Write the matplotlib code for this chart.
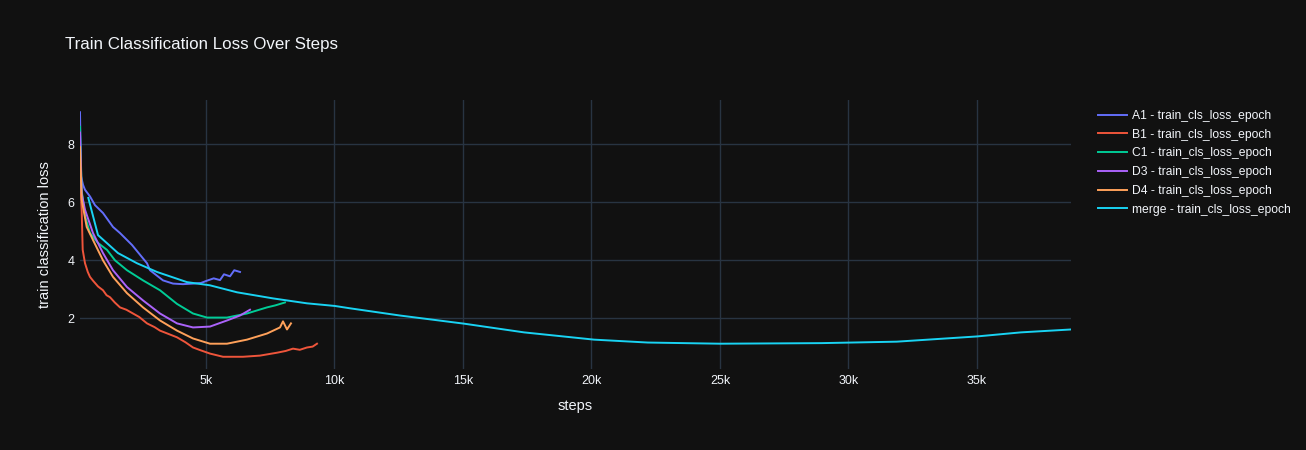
import matplotlib
matplotlib.use("Agg")
import matplotlib.pyplot as plt
from matplotlib.ticker import FuncFormatter

# values (step, loss)
steps_a1 = [97, 136, 214, 292, 486, 681, 992, 1381, 1654, 2120, 2704, 2821, 3327, 3716, 4100,
            4494, 4800, 5039, 5300, 5545, 5700, 5934, 6100, 6323]
loss_a1 = [9.1, 6.9, 6.6, 6.43, 6.2, 5.9, 5.63, 5.15, 4.94, 4.53, 3.9, 3.66, 3.31, 3.2, 3.18,
           3.2, 3.22, 3.3, 3.38, 3.32, 3.52, 3.45, 3.66, 3.6]

steps_b1 = [97, 163, 202, 292, 400, 486, 603, 800, 992, 1130, 1265, 1450, 1654, 1900, 2160,
            2400, 2704, 3000, 3210, 3500, 3872, 4200, 4494, 4800, 5156, 5662, 6440, 7101,
            7763, 8100, 8385, 8650, 8930, 9150, 9319]
loss_b1 = [6.9, 5.7, 4.36, 3.9, 3.6, 3.43, 3.3, 3.1, 2.97, 2.8, 2.73, 2.55, 2.38, 2.3, 2.17,
           2.05, 1.83, 1.7, 1.58, 1.48, 1.35, 1.18, 1.0, 0.9, 0.79, 0.68, 0.68, 0.72,
           0.82, 0.88, 0.96, 0.92, 1.0, 1.03, 1.13]

steps_c1 = [97, 163, 300, 486, 797, 1148, 1459, 1926, 2549, 3210, 3872, 4494, 5039, 5817,
            6595, 7000, 7373, 7700, 8073]
loss_c1 = [8.6, 6.4, 5.5, 4.94, 4.6, 4.36, 4.0, 3.66, 3.31, 2.97, 2.5, 2.17, 2.03, 2.03,
           2.17, 2.28, 2.38, 2.45, 2.55]

steps_d3 = [97, 163, 292, 603, 992, 1381, 1926, 2549, 3210, 3872, 4494, 5156, 5817, 6323, 6712]
loss_d3 = [8.4, 6.3, 5.74, 4.94, 4.25, 3.66, 3.08, 2.62, 2.17, 1.83, 1.69, 1.72, 1.93, 2.1, 2.3]

steps_d4 = [97, 163, 358, 603, 992, 1381, 1926, 2549, 3210, 3872, 4494, 5156, 5817, 6595,
            7373, 7879, 7996, 8152, 8307]
loss_d4 = [7.9, 6.09, 5.15, 4.7, 4.0, 3.43, 2.87, 2.38, 1.93, 1.58, 1.31, 1.13, 1.13, 1.27,
           1.48, 1.69, 1.9, 1.62, 1.83]

steps_merge = [420, 797, 1576, 2315, 3093, 4260, 5156, 6206, 7607, 8930, 10011, 10595, 12550,
               15040, 17375, 20100, 22190, 25000, 28960, 31880, 35000, 36710, 38660]
loss_merge = [6.15, 4.87, 4.25, 3.9, 3.6, 3.25, 3.14, 2.9, 2.69, 2.52, 2.43, 2.35, 2.1,
              1.82, 1.52, 1.27, 1.17, 1.13, 1.15, 1.2, 1.38, 1.52, 1.62]

runs = ["A1", "B1", "C1", "D3", "D4", "merge"]
colors = ["#636efa", "#EF553B", "#00cc96", "#ab63fa", "#FFA15A", "#19d3f3"]
series = [
    (steps_a1, loss_a1),
    (steps_b1, loss_b1),
    (steps_c1, loss_c1),
    (steps_d3, loss_d3),
    (steps_d4, loss_d4),
    (steps_merge, loss_merge),
]

BG = "#111111"
GRID = "#283442"
TEXT = "#f2f5fa"

plt.rcParams["font.family"] = ["Liberation Sans", "DejaVu Sans"]

fig = plt.figure(figsize=(13.06, 4.5), dpi=100, facecolor=BG)
ax = fig.add_axes([80 / 1306, 1 - 369 / 450, (1071 - 80) / 1306, (369 - 100) / 450])
ax.set_facecolor(BG)

for run, color, (xs, ys) in zip(runs, colors, series):
    ax.plot(xs, ys, color=color, lw=1.4, label=f"{run} - train_cls_loss_epoch")

# plotly-like autorange
all_x = [x for xs, _ in series for x in xs]
all_y = [y for _, ys in series for y in ys]
ax.set_xlim(min(all_x), max(all_x))
pad = (max(all_y) - min(all_y)) * 0.05
ax.set_ylim(min(all_y) - pad, max(all_y) + pad)

ax.set_xticks([5000, 10000, 15000, 20000, 25000, 30000, 35000])
ax.xaxis.set_major_formatter(FuncFormatter(lambda v, p: f"{int(v / 1000)}k"))
ax.set_yticks([2, 4, 6, 8])

ax.grid(True, color=GRID, lw=1)
ax.set_axisbelow(True)
for s in ax.spines.values():
    s.set_visible(False)
ax.tick_params(length=0, colors=TEXT, labelsize=9, pad=4)

ax.set_xlabel("steps", color=TEXT, fontsize=10.5, labelpad=9)
ax.set_ylabel("train classification loss", color=TEXT, fontsize=10.5, labelpad=11)

fig.text(65 / 1306, 1 - 44 / 450, "Train Classification Loss Over Steps",
         color=TEXT, fontsize=12.2, va="center", ha="left")

leg = fig.legend(loc="upper left", bbox_to_anchor=(1093 / 1306, 1 - 105 / 450),
                 frameon=False, fontsize=8.7, handlelength=2.4, handletextpad=0.45,
                 labelspacing=0.56, borderaxespad=0)
for t in leg.get_texts():
    t.set_color(TEXT)

fig.savefig("out.png", dpi=100, facecolor=BG)
